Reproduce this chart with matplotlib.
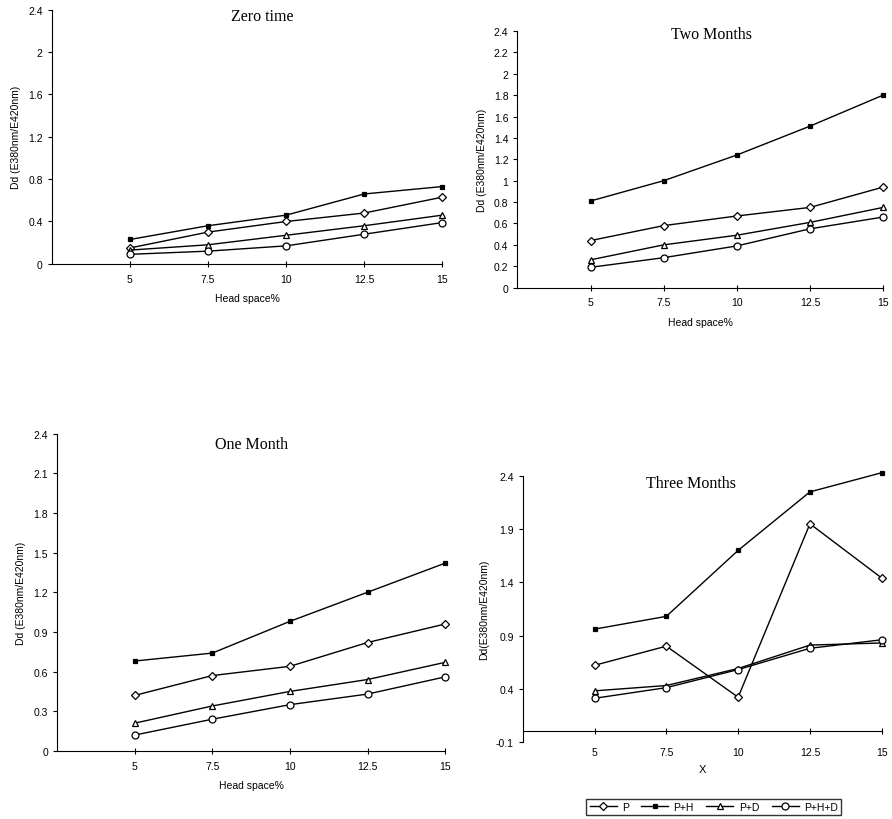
import numpy as np
import matplotlib
matplotlib.use('Agg')
import matplotlib.pyplot as plt
from matplotlib.lines import Line2D

plt.rcParams['font.family'] = ['Liberation Sans', 'DejaVu Sans']

head_space = [5, 7.5, 10, 12.5, 15]
series_names = ['P', 'P+H', 'P+D', 'P+H+D']

# Dd values
zero_p = [0.15, 0.30, 0.40, 0.48, 0.63]
zero_ph = [0.23, 0.36, 0.46, 0.66, 0.73]
zero_pd = [0.13, 0.18, 0.27, 0.36, 0.46]
zero_phd = [0.09, 0.12, 0.17, 0.28, 0.39]

one_p = [0.42, 0.57, 0.64, 0.82, 0.96]
one_ph = [0.68, 0.74, 0.98, 1.20, 1.42]
one_pd = [0.21, 0.34, 0.45, 0.54, 0.67]
one_phd = [0.12, 0.24, 0.35, 0.43, 0.56]

two_p = [0.44, 0.58, 0.67, 0.75, 0.94]
two_ph = [0.81, 1.00, 1.24, 1.51, 1.80]
two_pd = [0.26, 0.40, 0.49, 0.61, 0.75]
two_phd = [0.19, 0.28, 0.39, 0.55, 0.66]

three_p = [0.62, 0.80, 0.32, 1.95, 1.44]
three_ph = [0.96, 1.08, 1.70, 2.25, 2.43]
three_pd = [0.38, 0.43, 0.59, 0.81, 0.83]
three_phd = [0.31, 0.41, 0.58, 0.78, 0.86]

zero_ticks = [0, 0.4, 0.8, 1.2, 1.6, 2, 2.4]
one_ticks = [0, 0.3, 0.6, 0.9, 1.2, 1.5, 1.8, 2.1, 2.4]
two_ticks = [0, 0.2, 0.4, 0.6, 0.8, 1, 1.2, 1.4, 1.6, 1.8, 2, 2.2, 2.4]
three_ticks = [-0.1, 0.4, 0.9, 1.4, 1.9, 2.4]

markers = {'P': dict(marker='D', ms=4, mfc='white'),
           'P+H': dict(marker='s', ms=2.5, mfc='black'),
           'P+D': dict(marker='^', ms=5, mfc='white'),
           'P+H+D': dict(marker='o', ms=5, mfc='white')}

ylab = 'Dd (E380nm/E420nm)'


def draw_panel(ax, data, yticks, title, tpos, xlabel):
    for name, vals in zip(series_names, data):
        ax.plot(head_space, vals, color='black', lw=1.0, mec='black',
                mew=0.9, clip_on=False, **markers[name])
    ax.set_xlim(2.5, 15)
    ax.set_ylim(yticks[0], yticks[-1])
    ax.set_xticks(head_space)
    ax.set_xticklabels([f'{v:g}' for v in head_space])
    ax.set_yticks(yticks)
    ax.set_yticklabels([f'{v:g}' for v in yticks])
    for s in ['top', 'right']:
        ax.spines[s].set_visible(False)
    ax.tick_params(axis='both', labelsize=7.5, width=0.8)
    ax.tick_params(axis='x', direction='inout', length=4, pad=5)
    ax.tick_params(axis='y', direction='out', length=3)
    ax.set_xlabel(xlabel, fontsize=7.5, labelpad=7)
    ax.set_ylabel(ylab, fontsize=7.5, labelpad=5)
    ax.text(tpos[0], tpos[1], title, transform=ax.transAxes, ha='center',
            va='center', fontsize=11.5, family='Liberation Serif')


fig = plt.figure(figsize=(8.92, 8.2), dpi=100)

ax1 = fig.add_axes([0.058, 0.677, 0.438, 0.31])
draw_panel(ax1, [zero_p, zero_ph, zero_pd, zero_phd], zero_ticks,
           'Zero time', (0.54, 0.975), 'Head space%')

ax2 = fig.add_axes([0.58, 0.648, 0.41, 0.313])
draw_panel(ax2, [two_p, two_ph, two_pd, two_phd], two_ticks,
           'Two Months', (0.53, 0.99), 'Head space%')

ax3 = fig.add_axes([0.064, 0.083, 0.435, 0.387])
draw_panel(ax3, [one_p, one_ph, one_pd, one_phd], one_ticks,
           'One Month', (0.50, 0.968), 'Head space%')

ax4 = fig.add_axes([0.586, 0.094, 0.4025, 0.3244])
draw_panel(ax4, [three_p, three_ph, three_pd, three_phd], three_ticks,
           'Three Months', (0.47, 0.975), 'X')
ax4.spines['bottom'].set_position(('data', 0))
ax4.tick_params(axis='x', pad=9)
ax4.set_xlabel('X', fontsize=8, labelpad=5)
ax4.set_ylabel('Dd(E380nm/E420nm)', fontsize=7.5, labelpad=5)

handles = [Line2D([], [], color='black', lw=1.0, mec='black', mew=0.9,
                  **markers[n]) for n in series_names]
fig.legend(handles, series_names, loc='center', bbox_to_anchor=(0.80, 0.015),
           ncol=4, fontsize=7.5, frameon=True, fancybox=False, edgecolor='black',
           handlelength=2.6, handletextpad=0.5, columnspacing=1.2, borderpad=0.3)

fig.savefig('out.png', dpi=100)
